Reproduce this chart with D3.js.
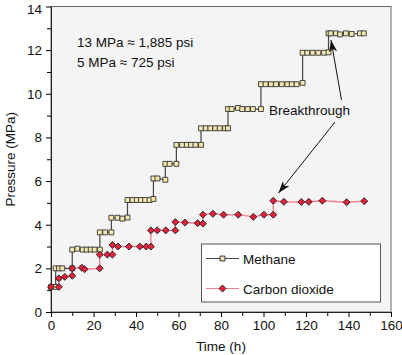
<!DOCTYPE html>
<html lang="en">
<head>
<meta charset="utf-8">
<title>Pressure vs time</title>
<script src="https://cdn.jsdelivr.net/npm/d3@7"></script>
<style>
  body { margin: 0; background: #fff; }
  text { font-family: "Liberation Sans", Arial, sans-serif; fill: #111; }
</style>
</head>
<body>
<svg id="chart" width="402" height="355"></svg>
<script>
// methane (squares)
const methaneTime = [0, 2.2, 2.2, 3.8, 5.3, 10, 10, 12.4, 14.9, 16.8, 18.7, 20.5, 23, 23, 25.5, 28.4, 28.4, 31.3, 33.6, 36, 36, 38.4, 40.4, 42.3, 44.3, 46.4, 48.2, 48.2, 50.1, 53.8, 53.8, 55.8, 59, 59, 61.7, 63.9, 65.9, 68, 70.6, 70.6, 72.8, 75, 77.3, 79.4, 81.9, 83.3, 83.3, 85, 88, 90, 92.5, 95, 98.8, 98.8, 101, 103.5, 105.9, 108.6, 111.2, 113.3, 115.6, 118.4, 118.4, 120.6, 123.1, 125.8, 128.5, 130.6, 130.6, 131.6, 134.1, 136, 138.8, 141.5, 145.4, 147.2];
const methanePressure = [1.15, 1.15, 2.0, 2.0, 2.0, 2.0, 2.86, 2.9, 2.86, 2.86, 2.86, 2.86, 2.86, 3.65, 3.65, 3.65, 4.32, 4.32, 4.28, 4.33, 5.13, 5.13, 5.13, 5.13, 5.13, 5.13, 5.18, 6.12, 6.12, 6.06, 6.79, 6.79, 6.79, 7.66, 7.66, 7.66, 7.66, 7.66, 7.66, 8.42, 8.42, 8.42, 8.42, 8.42, 8.42, 8.42, 9.3, 9.3, 9.35, 9.3, 9.3, 9.3, 9.3, 10.44, 10.44, 10.44, 10.44, 10.44, 10.44, 10.44, 10.44, 10.5, 11.88, 11.88, 11.88, 11.88, 11.88, 11.9, 12.77, 12.77, 12.77, 12.72, 12.77, 12.74, 12.77, 12.77];

// carbon dioxide (diamonds)
const co2Time = [0, 3.7, 3.7, 6.5, 10, 10, 14.5, 15.8, 22.9, 22.9, 26.5, 28.9, 28.9, 31.5, 36.7, 41.8, 44.8, 47, 47, 50, 54, 58.5, 58.5, 63, 69, 71.5, 71.5, 76.2, 81.2, 88.1, 95.2, 100.2, 104.6, 104.6, 109.6, 117.8, 121.3, 127.7, 139.1, 147.4];
const co2Pressure = [1.15, 1.15, 1.54, 1.61, 1.66, 2.0, 2.03, 1.96, 2.0, 2.63, 2.63, 2.63, 3.07, 3.0, 3.0, 3.0, 3.0, 3.0, 3.74, 3.74, 3.74, 3.74, 4.12, 4.1, 4.07, 4.05, 4.46, 4.5, 4.46, 4.46, 4.36, 4.46, 4.46, 5.1, 5.05, 5.04, 5.05, 5.1, 5.03, 5.08];

const xTicks = [0, 20, 40, 60, 80, 100, 120, 140, 160];
const yTicks = [0, 2, 4, 6, 8, 10, 12, 14];
const seriesNames = ["Methane", "Carbon dioxide"];

const svg = d3.select("#chart");
const pl = 51, pr = 391, pt = 6.5, pb = 312;

const x = d3.scaleLinear().domain([0, 160]).range([pl, pr]);
const y = d3.scaleLinear().domain([0, 14]).range([pb, pt]);

// plot background + frame
svg.append("rect")
  .attr("x", pl).attr("y", pt)
  .attr("width", pr - pl).attr("height", pb - pt)
  .attr("fill", "#f4f4f4")
  .attr("stroke", "#666").attr("stroke-width", 1);

// minor ticks
svg.append("g")
  .attr("transform", "translate(0," + pb + ")")
  .call(d3.axisBottom(x).tickValues(d3.range(10, 160, 20)).tickSize(4).tickFormat(""))
  .call(g => g.select(".domain").remove());
svg.append("g")
  .attr("transform", "translate(" + pl + ",0)")
  .call(d3.axisLeft(y).tickValues(d3.range(1, 14, 2)).tickSize(4).tickFormat(""))
  .call(g => g.select(".domain").remove());

// major axes
const xAxis = svg.append("g")
  .attr("transform", "translate(0," + pb + ")")
  .call(d3.axisBottom(x).tickValues(xTicks).tickSize(5).tickPadding(3).tickSizeOuter(0));
const yAxis = svg.append("g")
  .attr("transform", "translate(" + pl + ",0)")
  .call(d3.axisLeft(y).tickValues(yTicks).tickSize(5).tickPadding(4).tickSizeOuter(0));

[xAxis, yAxis].forEach(g => {
  g.selectAll("text").style("font-size", "13.5px").attr("fill", "#111");
  g.select(".domain").attr("stroke", "#222");
});
// keep the top label inside the picture
yAxis.selectAll(".tick").filter(d => d === 14).select("text").attr("dy", "0.5em");

// axis titles
svg.append("text")
  .attr("x", (pl + pr) / 2).attr("y", 351)
  .attr("text-anchor", "middle").style("font-size", "13.5px")
  .text("Time (h)");
svg.append("text")
  .attr("transform", "translate(14.5," + (pt + pb) / 2 + ") rotate(-90)")
  .attr("text-anchor", "middle").style("font-size", "13.5px")
  .text("Pressure (MPa)");

// lines
const line = d3.line().x(d => x(d[0])).y(d => y(d[1]));
const methane = methaneTime.map((t, i) => [t, methanePressure[i]]);
const co2 = co2Time.map((t, i) => [t, co2Pressure[i]]);

svg.append("path").datum(methane)
  .attr("d", line).attr("fill", "none")
  .attr("stroke", "#444").attr("stroke-width", 1.2);
svg.append("path").datum(co2)
  .attr("d", line).attr("fill", "none")
  .attr("stroke", "#f0808f").attr("stroke-width", 1.4);

const square = d3.symbol().type(d3.symbolSquare).size(24);
const diamond = d3.symbol().type(d3.symbolSquare).size(24);

svg.append("g").selectAll("path").data(methane).join("path")
  .attr("transform", d => "translate(" + x(d[0]) + "," + y(d[1]) + ")")
  .attr("d", square)
  .attr("fill", "#f3e6b0").attr("stroke", "#333").attr("stroke-width", 0.9);
svg.append("g").selectAll("path").data(co2).join("path")
  .attr("transform", d => "translate(" + x(d[0]) + "," + y(d[1]) + ") rotate(45)")
  .attr("d", diamond)
  .attr("fill", "#e8203a").attr("stroke", "#222").attr("stroke-width", 0.9);

// annotations
svg.append("text").attr("x", 77).attr("y", 47).style("font-size", "13.5px").text("13 MPa \u2248 1,885 psi");
svg.append("text").attr("x", 77).attr("y", 67).style("font-size", "13.5px").text("5 MPa \u2248 725 psi");
svg.append("text").attr("x", 269).attr("y", 115).style("font-size", "13.5px").text("Breakthrough");

svg.append("defs").append("marker")
  .attr("id", "head").attr("viewBox", "0 0 12 8")
  .attr("refX", 12).attr("refY", 4)
  .attr("markerWidth", 12).attr("markerHeight", 8)
  .attr("markerUnits", "userSpaceOnUse")
  .attr("orient", "auto")
  .append("path").attr("d", "M0,0 L12,4 L0,8 L3,4 Z").attr("fill", "#111");

svg.append("line")
  .attr("x1", 341.5).attr("y1", 100).attr("x2", 331).attr("y2", 40)
  .attr("stroke", "#111").attr("stroke-width", 1).attr("marker-end", "url(#head)");
svg.append("line")
  .attr("x1", 335).attr("y1", 122).attr("x2", 278.5).attr("y2", 193)
  .attr("stroke", "#111").attr("stroke-width", 1).attr("marker-end", "url(#head)");

// legend
const legend = svg.append("g");
legend.append("rect")
  .attr("x", 201.5).attr("y", 244).attr("width", 179).attr("height", 58)
  .attr("fill", "#fff").attr("stroke", "#555").attr("stroke-width", 1);
const legendRows = [
  { name: seriesNames[0], yy: 258.5, stroke: "#444", sym: square, fill: "#f3e6b0", rot: 0 },
  { name: seriesNames[1], yy: 288.5, stroke: "#f0808f", sym: diamond, fill: "#e8203a", rot: 45 }
];
legendRows.forEach(r => {
  legend.append("line").attr("x1", 206).attr("x2", 239).attr("y1", r.yy).attr("y2", r.yy)
    .attr("stroke", r.stroke).attr("stroke-width", 1.2);
  legend.append("path").attr("transform", "translate(222.5," + r.yy + ") rotate(" + r.rot + ")")
    .attr("d", r.sym).attr("fill", r.fill).attr("stroke", "#222").attr("stroke-width", 0.9);
  legend.append("text").attr("x", 243).attr("y", r.yy + 5)
    .style("font-size", "13.5px").text(r.name);
});
</script>
</body>
</html>
